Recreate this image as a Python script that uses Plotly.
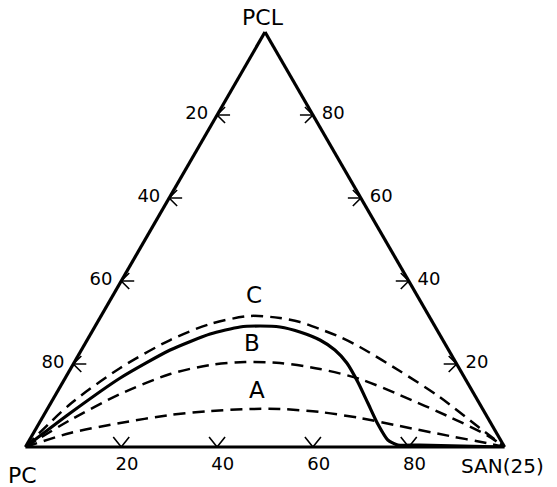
import plotly.graph_objects as go

# Composition coordinates in percent: PCL (top), PC (lower left), SAN(25) (lower right)
# Dashed curve C
c_san = [0, 4.19, 10.27, 17.32, 23.72, 31.09, 37.58, 42.23, 47.24, 52.37, 57.74, 68.97, 80.43, 92.5, 100]
c_pcl = [0, 10.36, 19.04, 25.78, 29.64, 31.57, 31.08, 30.12, 28.43, 26.51, 24.10, 18.31, 12.05, 4.58, 0]
# Dashed curve B
b_san = [0, 6.12, 13.41, 21.41, 28.66, 35.59, 43.0, 52.06, 61.6, 71.86, 84.93, 94.8, 100]
b_pcl = [0, 6.51, 12.77, 17.59, 19.76, 20.48, 20.24, 18.80, 16.39, 12.53, 7.23, 2.89, 0]
# Dashed curve A
a_san = [0, 7.69, 16.9, 26.35, 34.2, 42.3, 48.55, 57.24, 66.3, 75.6, 87.22, 95.77, 100]
a_pcl = [0, 3.37, 5.78, 7.71, 8.67, 9.16, 9.16, 8.43, 6.99, 5.06, 2.65, 0.96, 0]
# Solid boundary curve
s_san = [0, 5.28, 11.48, 18.52, 24.93, 30.33, 34.38, 38.67, 43.44, 48.57, 52.9, 56.96, 61.54,
         66.16, 70.77, 74.78, 77.47, 82.05, 100]
s_pcl = [0, 8.19, 16.63, 23.37, 27.23, 28.92, 29.16, 28.92, 27.71, 25.78, 23.37, 20.24, 15.66,
         10.60, 5.54, 1.69, 0.48, 0.48, 0]

# Curve labels
label_text = ["C", "B", "A"]
label_san = [29.64, 35.0, 41.7]
label_pcl = [36.14, 24.58, 13.25]

# Edge tick positions (percent of the component read along each edge)
tick_vals = [20, 40, 60, 80]

FONT = "DejaVu Sans, Arial, sans-serif"
NB = "\u00a0"

# Screen size of the triangle, used to turn small pixel offsets into composition steps
TRI_W, TRI_H = 480.0, 415.0


def pc_of(san, pcl):
    return [100 - s - p for s, p in zip(san, pcl)]


def shift(pt, dx, dy):
    """Move a composition point (a, b, c) by dx px to the right and dy px upward."""
    a, b, c = pt
    da = dy / TRI_H * 100
    dc = dx / TRI_W * 100 - da / 2
    return (a + da, b - da - dc, c + dc)


# Arrow-head tick marks pointing out of the triangle at each tick value
tick_a, tick_b, tick_c = [], [], []


def add_path(pts):
    for p in pts:
        tick_a.append(p[0]); tick_b.append(p[1]); tick_c.append(p[2])
    tick_a.append(None); tick_b.append(None); tick_c.append(None)


for v in tick_vals:
    # left edge (PC content): "<--"
    p = (100 - v, v, 0)
    add_path([shift(p, 8, 8), p, shift(p, 8, -8)])
    add_path([p, shift(p, 13, 0)])
    # right edge (PCL content): "-->"
    p = (v, 0, 100 - v)
    add_path([shift(p, -8, 8), p, shift(p, -8, -8)])
    add_path([p, shift(p, -13, 0)])
    # bottom edge (SAN content): "V"
    p = (0, 100 - v, v)
    add_path([shift(p, -8, 10), p, shift(p, 8, 10)])

fig = go.Figure()

dash_style = "12px,7px"
for san, pcl in [(c_san, c_pcl), (b_san, b_pcl), (a_san, a_pcl)]:
    fig.add_trace(go.Scatterternary(
        a=pcl, b=pc_of(san, pcl), c=san, mode="lines",
        line=dict(color="black", width=2.5, dash=dash_style, shape="spline", smoothing=0.8),
        hoverinfo="skip", showlegend=False,
    ))

fig.add_trace(go.Scatterternary(
    a=s_pcl, b=pc_of(s_san, s_pcl), c=s_san, mode="lines",
    line=dict(color="black", width=3.2, shape="spline", smoothing=0.6),
    hoverinfo="skip", showlegend=False,
))

fig.add_trace(go.Scatterternary(
    a=tick_a, b=tick_b, c=tick_c, mode="lines", cliponaxis=False,
    line=dict(color="black", width=1.6), connectgaps=False,
    hoverinfo="skip", showlegend=False,
))

fig.add_trace(go.Scatterternary(
    a=label_pcl, b=pc_of(label_san, label_pcl), c=label_san, mode="text",
    text=label_text, textfont=dict(family=FONT, size=23, color="black"),
    hoverinfo="skip", showlegend=False,
))

axis_common = dict(
    showgrid=False, showline=True, linecolor="black", linewidth=3.2,
    ticks="", tickvals=tick_vals,
    tickfont=dict(family=FONT, size=18, color="black"),
    title=dict(text=""),
)

fig.update_layout(
    width=557, height=487,
    margin=dict(l=25, r=52, t=32, b=40),
    paper_bgcolor="white",
    ternary=dict(
        sum=100,
        bgcolor="white",
        # left edge reads PC, bottom reads SAN(25), right edge reads PCL
        aaxis=dict(ticktext=[str(100 - v) + NB for v in tick_vals], **axis_common),
        baxis=dict(ticktext=[NB * 2 + str(100 - v) for v in tick_vals], **axis_common),
        caxis=dict(ticktext=[NB + str(100 - v) for v in tick_vals], **axis_common),
    ),
    annotations=[
        dict(text="PCL", x=0.4958, y=1.036, xref="paper", yref="paper", showarrow=False,
             xanchor="center", yanchor="middle", font=dict(family=FONT, size=22, color="black")),
        dict(text="PC", x=-0.006, y=-0.0675, xref="paper", yref="paper", showarrow=False,
             xanchor="center", yanchor="middle", font=dict(family=FONT, size=22, color="black")),
        dict(text="SAN(25)", x=0.9958, y=-0.0458, xref="paper", yref="paper", showarrow=False,
             xanchor="center", yanchor="middle", font=dict(family=FONT, size=20, color="black")),
    ],
)

fig.write_html("out.html")
